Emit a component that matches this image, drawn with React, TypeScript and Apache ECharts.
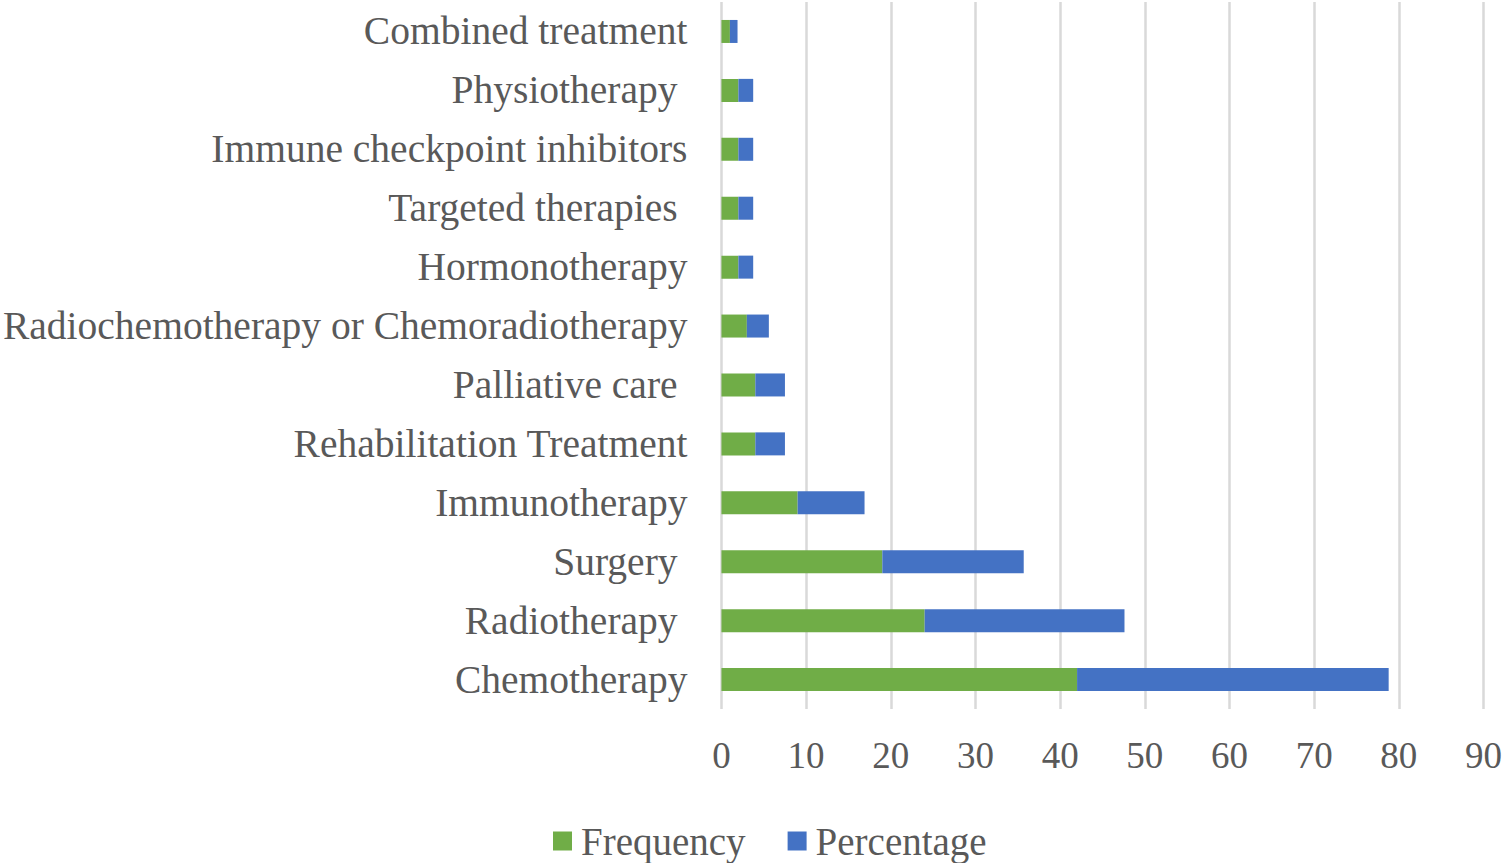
import { useEffect, useRef } from "react"
import * as echarts from "echarts"

// bottom to top, as on the category axis
const treatments = [
  "Chemotherapy",
  "Radiotherapy ",
  "Surgery ",
  "Immunotherapy",
  "Rehabilitation Treatment",
  "Palliative care ",
  "Radiochemotherapy or Chemoradiotherapy",
  "Hormonotherapy",
  "Targeted therapies ",
  "Immune checkpoint inhibitors",
  "Physiotherapy ",
  "Combined treatment",
]

const frequency = [42, 24, 19, 9, 4, 4, 3, 2, 2, 2, 2, 1]
const percentage = [36.8, 23.6, 16.7, 7.9, 3.5, 3.5, 2.6, 1.75, 1.75, 1.75, 1.75, 0.9]

const xTicks = { min: 0, max: 90, interval: 10 }

const FONT = "'Liberation Serif', 'Times New Roman', serif"
const GREY = "#595959"

export default function App() {
  const chartRef = useRef<HTMLDivElement>(null)

  useEffect(() => {
    if (!chartRef.current) return
    const chart = echarts.init(chartRef.current, undefined, { renderer: "svg" })

    chart.setOption({
      animation: false,
      textStyle: { fontFamily: FONT },
      grid: { left: 719, right: 21, top: 2, bottom: 154, containLabel: false },
      legend: {
        left: 553,
        top: 821,
        padding: 0,
        itemWidth: 19,
        itemHeight: 19,
        itemGap: 42,
        icon: "rect",
        textStyle: {
          fontFamily: FONT,
          fontSize: 39,
          lineHeight: 40,
          color: GREY,
          padding: [0, 0, 0, 4],
        },
        data: ["Frequency", "Percentage"],
      },
      xAxis: {
        type: "value",
        ...xTicks,
        axisLine: { show: false },
        axisTick: { show: false },
        axisLabel: { fontFamily: FONT, fontSize: 37, color: GREY, margin: 28 },
        splitLine: { show: true, lineStyle: { color: "#d9d9d9", width: 2.5 } },
      },
      yAxis: {
        type: "category",
        data: treatments,
        axisLine: { show: false },
        axisTick: { show: false },
        axisLabel: { fontFamily: FONT, fontSize: 39.5, color: GREY, margin: 34 },
      },
      series: [
        {
          name: "Frequency",
          type: "bar",
          stack: "total",
          barWidth: 23,
          itemStyle: { color: "#70ad47" },
          data: frequency,
        },
        {
          name: "Percentage",
          type: "bar",
          stack: "total",
          barWidth: 23,
          itemStyle: { color: "#4472c4" },
          data: percentage,
        },
      ],
    })

    const handleResize = () => chart.resize()
    window.addEventListener("resize", handleResize)
    return () => {
      window.removeEventListener("resize", handleResize)
      chart.dispose()
    }
  }, [])

  return (
    <div
      ref={chartRef}
      style={{ position: "fixed", left: 0, top: 0, width: 1505, height: 863, background: "#fff" }}
    />
  )
}
